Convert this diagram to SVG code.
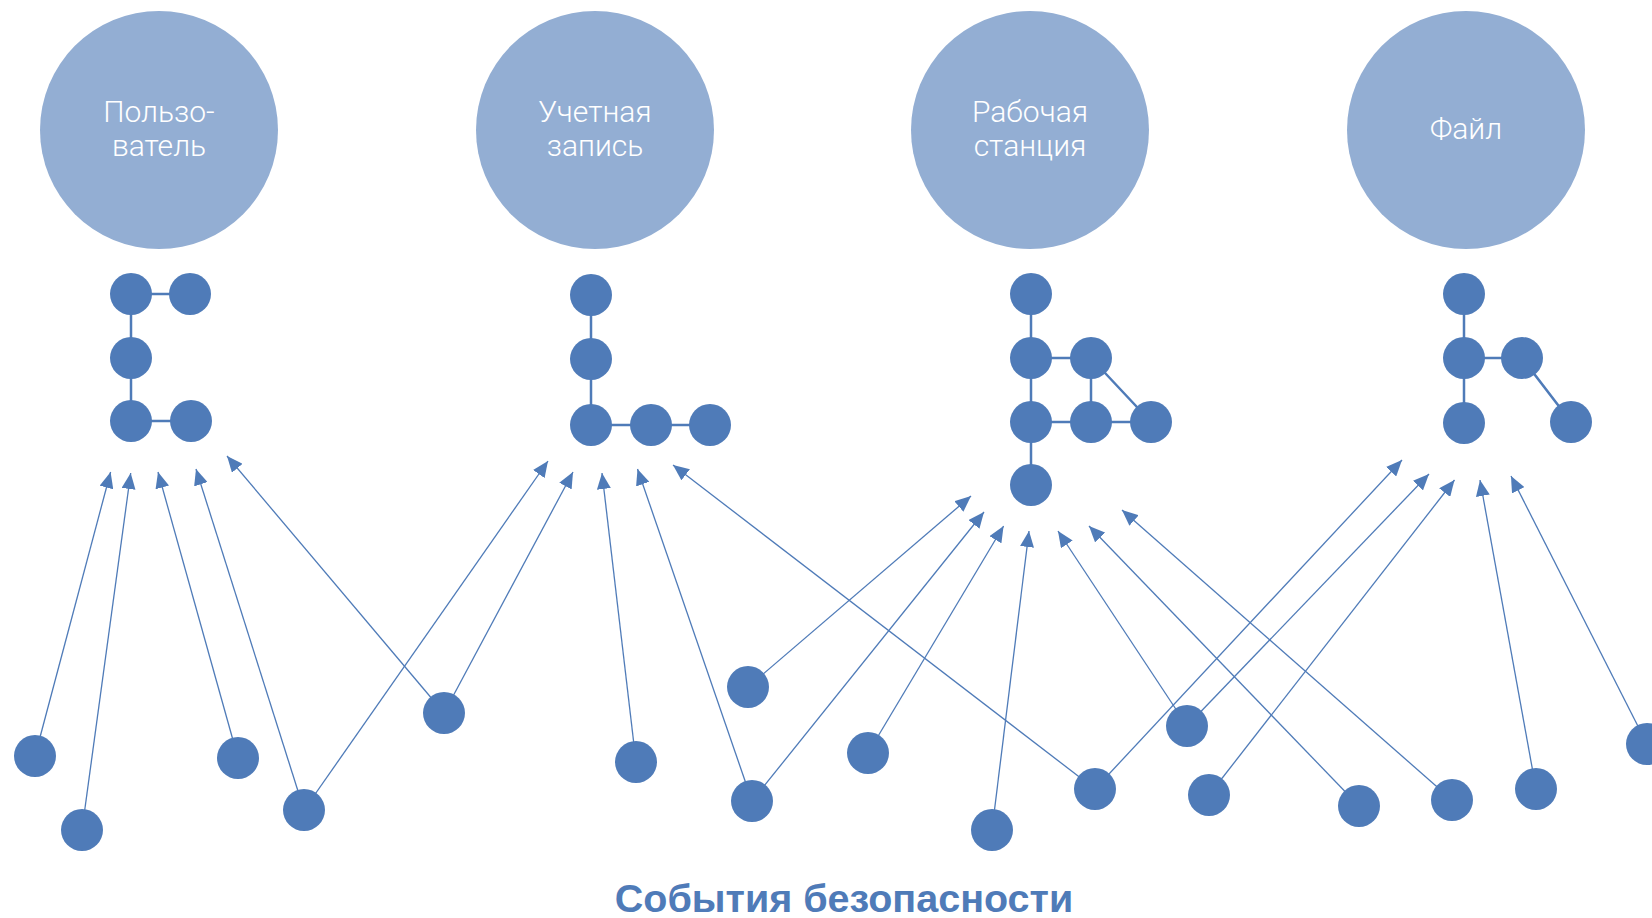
<svg xmlns="http://www.w3.org/2000/svg" width="1652" height="918" viewBox="0 0 1652 918">
<style>
.big{fill:#93AED3}
.lbl{font-family:Roboto,"Liberation Sans",sans-serif;font-weight:300;font-size:30px;fill:#fff;text-anchor:middle}
.n{fill:#4F7BB8}
.e{stroke:#4F7BB8;stroke-width:2.5;fill:none}
.a{stroke:#4F7BB8;stroke-width:1.3;fill:none;marker-end:url(#ah)}
.title{font-family:"Liberation Sans",Arial,sans-serif;font-weight:bold;font-size:39.5px;fill:#4F7BB8;text-anchor:middle}
</style>
<defs>
<marker id="ah" markerUnits="userSpaceOnUse" markerWidth="17" markerHeight="14" refX="16" refY="7" orient="auto">
<path d="M0,0 L16,7 L0,14 z" fill="#4F7BB8"/>
</marker>
</defs>
<rect width="1652" height="918" fill="#fff"/>
<g id="entities">
<g id="user"><circle class="big" cx="159" cy="130" r="119"/><text class="lbl" x="159" y="122">Пользо-</text><text class="lbl" x="159" y="156">ватель</text></g>
<g id="account"><circle class="big" cx="595" cy="130" r="119"/><text class="lbl" x="595" y="122">Учетная</text><text class="lbl" x="595" y="156">запись</text></g>
<g id="workstation"><circle class="big" cx="1030" cy="130" r="119"/><text class="lbl" x="1030" y="122">Рабочая</text><text class="lbl" x="1030" y="156">станция</text></g>
<g id="file"><circle class="big" cx="1466" cy="130" r="119"/><text class="lbl" x="1466" y="139">Файл</text></g>
</g>
<g id="connectors">
<path class="e" d="M131,294 H190 M131,294 V421 M131,421 H191"/>
<path class="e" d="M591,295 V425 H710"/>
<path class="e" d="M1031,294 V485 M1031,358 H1091 V422 M1091,358 L1151,422 M1031,422 H1151"/>
<path class="e" d="M1464,294 V423 M1464,358 H1522 L1571,422"/>
<line class="a" x1="35" y1="756" x2="110.6" y2="472"/>
<line class="a" x1="82" y1="830" x2="130.7" y2="473"/>
<line class="a" x1="238" y1="758" x2="158" y2="472"/>
<line class="a" x1="304" y1="810" x2="196" y2="469"/>
<line class="a" x1="444" y1="713" x2="227" y2="456"/>
<line class="a" x1="304" y1="810" x2="548" y2="461"/>
<line class="a" x1="444" y1="713" x2="573" y2="472"/>
<line class="a" x1="636" y1="762" x2="602" y2="473"/>
<line class="a" x1="752" y1="801" x2="637.5" y2="469"/>
<line class="a" x1="1095" y1="789" x2="673" y2="465"/>
<line class="a" x1="748" y1="687" x2="971" y2="496"/>
<line class="a" x1="752" y1="801" x2="984" y2="512"/>
<line class="a" x1="868" y1="753" x2="1003.6" y2="526"/>
<line class="a" x1="992" y1="830" x2="1029" y2="531"/>
<line class="a" x1="1187" y1="726" x2="1058" y2="531"/>
<line class="a" x1="1359" y1="806" x2="1089" y2="526"/>
<line class="a" x1="1452" y1="800" x2="1122" y2="510"/>
<line class="a" x1="1095" y1="789" x2="1402" y2="460"/>
<line class="a" x1="1187" y1="726" x2="1429" y2="474"/>
<line class="a" x1="1209" y1="795" x2="1454.5" y2="480"/>
<line class="a" x1="1536" y1="789" x2="1480" y2="480"/>
<line class="a" x1="1647" y1="744" x2="1511" y2="476"/>
</g>
<g id="user-graph">
<circle class="n" cx="131" cy="294" r="21"/><circle class="n" cx="190" cy="294" r="21"/><circle class="n" cx="131" cy="358" r="21"/><circle class="n" cx="131" cy="421" r="21"/><circle class="n" cx="191" cy="421" r="21"/>
</g>
<g id="account-graph">
<circle class="n" cx="591" cy="295" r="21"/><circle class="n" cx="591" cy="359" r="21"/><circle class="n" cx="591" cy="425" r="21"/><circle class="n" cx="651" cy="425" r="21"/><circle class="n" cx="710" cy="425" r="21"/>
</g>
<g id="workstation-graph">
<circle class="n" cx="1031" cy="294" r="21"/><circle class="n" cx="1031" cy="358" r="21"/><circle class="n" cx="1091" cy="358" r="21"/><circle class="n" cx="1031" cy="422" r="21"/><circle class="n" cx="1091" cy="422" r="21"/><circle class="n" cx="1151" cy="422" r="21"/><circle class="n" cx="1031" cy="485" r="21"/>
</g>
<g id="file-graph">
<circle class="n" cx="1464" cy="294" r="21"/><circle class="n" cx="1464" cy="358" r="21"/><circle class="n" cx="1522" cy="358" r="21"/><circle class="n" cx="1464" cy="423" r="21"/><circle class="n" cx="1571" cy="422" r="21"/>
</g>
<g id="events">
<circle id="ev1" class="n" cx="35" cy="756" r="21"/>
<circle id="ev2" class="n" cx="82" cy="830" r="21"/>
<circle id="ev3" class="n" cx="238" cy="758" r="21"/>
<circle id="ev4" class="n" cx="304" cy="810" r="21"/>
<circle id="ev5" class="n" cx="444" cy="713" r="21"/>
<circle id="ev6" class="n" cx="636" cy="762" r="21"/>
<circle id="ev7" class="n" cx="748" cy="687" r="21"/>
<circle id="ev8" class="n" cx="752" cy="801" r="21"/>
<circle id="ev9" class="n" cx="868" cy="753" r="21"/>
<circle id="ev10" class="n" cx="992" cy="830" r="21"/>
<circle id="ev11" class="n" cx="1095" cy="789" r="21"/>
<circle id="ev12" class="n" cx="1187" cy="726" r="21"/>
<circle id="ev13" class="n" cx="1209" cy="795" r="21"/>
<circle id="ev14" class="n" cx="1359" cy="806" r="21"/>
<circle id="ev15" class="n" cx="1452" cy="800" r="21"/>
<circle id="ev16" class="n" cx="1536" cy="789" r="21"/>
<circle id="ev17" class="n" cx="1647" cy="744" r="21"/>
</g>
<text id="title" class="title" x="844" y="912">События безопасности</text>
</svg>
